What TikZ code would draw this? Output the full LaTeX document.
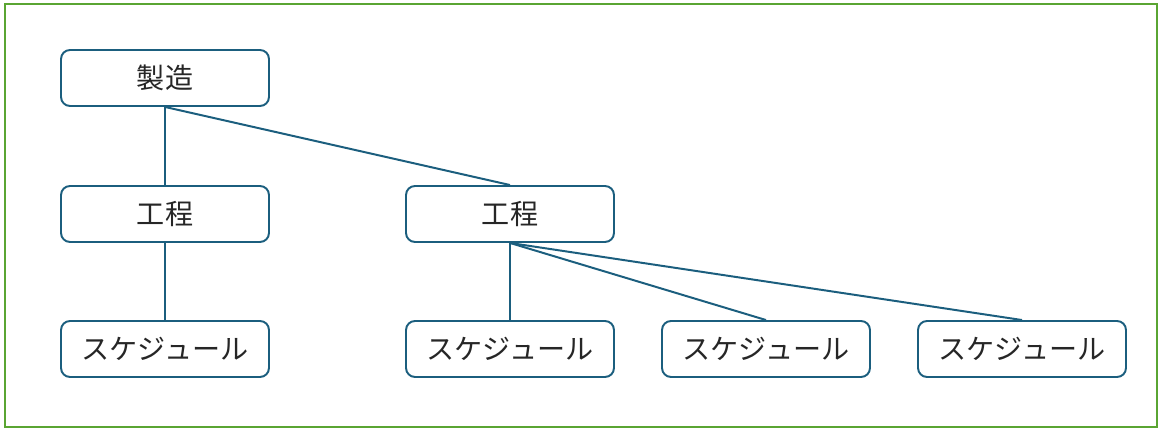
\documentclass[tikz,border=0pt]{standalone}
\usepackage{fontspec}
\newfontfamily\cjk{Noto Sans CJK JP}
\definecolor{edgeblue}{HTML}{1B5E7E}
\definecolor{framegreen}{HTML}{5AA532}
\begin{document}
\begin{tikzpicture}[x=0.02cm,y=-0.02cm,
  box/.style={draw=edgeblue,line width=1.1pt,rounded corners=0.18cm,minimum width=4.16cm,minimum height=1.12cm,inner sep=0pt,font=\cjk\fontsize{16}{19}\selectfont,text=black!85,fill=white},
  link/.style={draw=edgeblue,line width=1.13pt}]
\useasboundingbox (0,0) rectangle (1163,431);
\draw[framegreen,line width=1.2pt] (5,4) rectangle (1157,427);
\node[box] (root) at (165,78) {製造};
\node[box] (p1) at (165,214) {工程};
\node[box] (p2) at (510,214) {工程};
\node[box] (s1) at (165,349) {スケジュール};
\node[box] (s2) at (510,349) {スケジュール};
\node[box] (s3) at (766,349) {スケジュール};
\node[box] (s4) at (1022,349) {スケジュール};
\draw[link] (root.south) -- (p1.north);
\draw[link] (root.south) -- (p2.north);
\draw[link] (p1.south) -- (s1.north);
\draw[link] (p2.south) -- (s2.north);
\draw[link] (p2.south) -- (s3.north);
\draw[link] (p2.south) -- (s4.north);
\end{tikzpicture}
\end{document}
